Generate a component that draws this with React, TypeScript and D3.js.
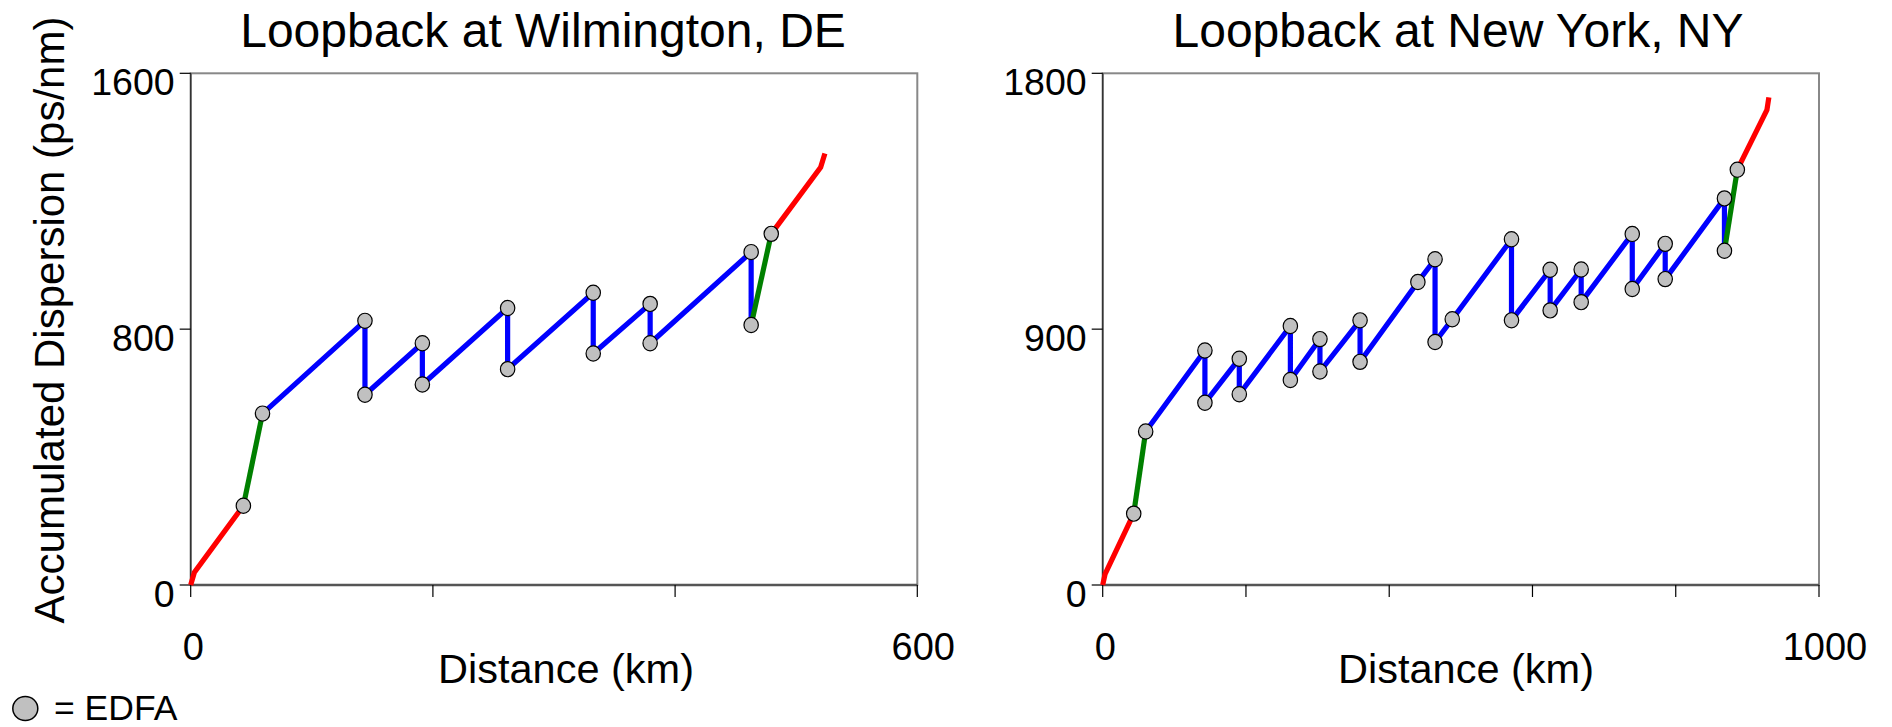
import React from "react";
import * as d3 from "d3";

// Accumulated dispersion along the route: [distance km, dispersion ps/nm]
const wilmRedIn: [number, number][] = [[0, 0], [3, 39], [43.5, 248]];
const wilmGreenIn: [number, number][] = [[43.5, 248], [59.3, 536]];
const wilmBlue: [number, number][] = [
  [59.3, 536], [143.9, 826], [143.9, 595], [191.3, 756], [191.3, 627],
  [261.7, 866], [261.7, 675], [332.4, 914], [332.4, 724], [379.4, 879],
  [379.4, 756], [462.8, 1041], [462.8, 813],
];
const wilmGreenOut: [number, number][] = [[462.8, 813], [479.4, 1098]];
const wilmRedOut: [number, number][] = [[479.4, 1098], [520.2, 1306], [523.7, 1349]];
const wilmEdfa: [number, number][] = [
  [43.5, 248], [59.3, 536], [143.9, 826], [143.9, 595], [191.3, 756], [191.3, 627],
  [261.7, 866], [261.7, 675], [332.4, 914], [332.4, 724], [379.4, 879], [379.4, 756],
  [462.8, 1041], [462.8, 813], [479.4, 1098],
];

const nyRedIn: [number, number][] = [[0, 0], [3.3, 38], [43.3, 251]];
const nyGreenIn: [number, number][] = [[43.3, 251], [60, 540]];
const nyBlue: [number, number][] = [
  [60, 540], [142.7, 825], [142.7, 641], [190.7, 796], [190.7, 671],
  [262, 911], [262, 721], [303.3, 865], [303.3, 751], [359.3, 931],
  [359.3, 785], [440, 1066], [464, 1146], [464, 855], [488, 935],
  [570.7, 1216], [570.7, 931], [624.7, 1109], [624.7, 966], [668, 1110],
  [668, 995], [739.3, 1235], [739.3, 1041], [785.3, 1200], [785.3, 1076],
  [868, 1360], [868, 1176],
];
const nyGreenOut: [number, number][] = [[868, 1176], [886, 1461]];
const nyRedOut: [number, number][] = [[886, 1461], [927.3, 1671], [930, 1715]];
const nyEdfa: [number, number][] = [
  [43.3, 251], [60, 540], [142.7, 825], [142.7, 641], [190.7, 796], [190.7, 671],
  [262, 911], [262, 721], [303.3, 865], [303.3, 751], [359.3, 931], [359.3, 785],
  [440, 1066], [464, 1146], [464, 855], [488, 935], [570.7, 1216], [570.7, 931],
  [624.7, 1109], [624.7, 966], [668, 1110], [668, 995], [739.3, 1235], [739.3, 1041],
  [785.3, 1200], [785.3, 1076], [868, 1360], [868, 1176], [886, 1461],
];

const wilmXTicks = [0, 200, 400, 600];
const wilmXLabels = [0, 600];
const wilmYTicks = [0, 800, 1600];
const nyXTicks = [0, 200, 400, 600, 800, 1000];
const nyXLabels = [0, 1000];
const nyYTicks = [0, 900, 1800];

const FONT = "'Liberation Sans', Arial, Helvetica, sans-serif";
const RED = "#ff0000";
const GREEN = "#008000";
const BLUE = "#0000ff";

type Panel = {
  title: string;
  titleX: number;
  xLabelX: number;
  left: number;
  right: number;
  xMax: number;
  yMax: number;
  xTicks: number[];
  xLabels: number[];
  yTicks: number[];
  segments: { pts: [number, number][]; color: string }[];
  edfa: [number, number][];
};

const TOP = 73.3;
const BOTTOM = 585;

function Plot({ p }: { p: Panel }) {
  const x = d3.scaleLinear().domain([0, p.xMax]).range([p.left, p.right]);
  const y = d3.scaleLinear().domain([0, p.yMax]).range([BOTTOM, TOP]);
  const line = d3
    .line<[number, number]>()
    .x((d) => x(d[0]))
    .y((d) => y(d[1]));
  return (
    <g>
      <text
        x={p.titleX}
        y={47}
        textAnchor="middle"
        fontFamily={FONT}
        fontSize={48}
        fill="#000"
      >
        {p.title}
      </text>
      {/* plot frame */}
      <rect
        x={p.left}
        y={TOP}
        width={p.right - p.left}
        height={BOTTOM - TOP}
        fill="none"
        stroke="#888"
        strokeWidth={2}
      />
      <line x1={p.left} x2={p.left} y1={TOP} y2={BOTTOM} stroke="#333" strokeWidth={1.5} />
      <line x1={p.left} x2={p.right} y1={BOTTOM} y2={BOTTOM} stroke="#555" strokeWidth={2.5} />
      {p.yTicks.map((t) => (
        <g key={"y" + t}>
          <line x1={p.left - 11} x2={p.left} y1={y(t)} y2={y(t)} stroke="#000" strokeWidth={1.2} />
          <text
            x={p.left - 16}
            y={y(t) + 21.7}
            textAnchor="end"
            fontFamily={FONT}
            fontSize={37.5}
            fill="#000"
          >
            {t}
          </text>
        </g>
      ))}
      {p.xTicks.map((t) => (
        <line
          key={"x" + t}
          x1={x(t)}
          x2={x(t)}
          y1={BOTTOM}
          y2={BOTTOM + 12}
          stroke="#000"
          strokeWidth={1.2}
        />
      ))}
      {p.xLabels.map((t, i) => (
        <text
          key={"xl" + t}
          x={x(t) + (i === 0 ? 2.5 : 6)}
          y={660}
          textAnchor="middle"
          fontFamily={FONT}
          fontSize={38}
          fill="#000"
        >
          {t}
        </text>
      ))}
      <text
        x={p.xLabelX}
        y={683}
        textAnchor="middle"
        fontFamily={FONT}
        fontSize={41.5}
        fill="#000"
      >
        Distance (km)
      </text>
      {p.segments.map((s, i) => (
        <path
          key={"s" + i}
          d={line(s.pts) || ""}
          fill="none"
          stroke={s.color}
          strokeWidth={5.2}
          strokeLinejoin="miter"
          strokeMiterlimit={2}
        />
      ))}
      {p.edfa.map((d, i) => (
        <ellipse
          key={"e" + i}
          cx={x(d[0])}
          cy={y(d[1])}
          rx={7.2}
          ry={7.6}
          fill="#c0c0c0"
          stroke="#000"
          strokeWidth={1.2}
        />
      ))}
    </g>
  );
}

const panels: Panel[] = [
  {
    title: "Loopback at Wilmington, DE",
    titleX: 543,
    xLabelX: 566,
    left: 190.7,
    right: 917.3,
    xMax: 600,
    yMax: 1600,
    xTicks: wilmXTicks,
    xLabels: wilmXLabels,
    yTicks: wilmYTicks,
    segments: [
      { pts: wilmRedIn, color: RED },
      { pts: wilmGreenIn, color: GREEN },
      { pts: wilmBlue, color: BLUE },
      { pts: wilmGreenOut, color: GREEN },
      { pts: wilmRedOut, color: RED },
    ],
    edfa: wilmEdfa,
  },
  {
    title: "Loopback at New York, NY",
    titleX: 1458,
    xLabelX: 1466,
    left: 1102.7,
    right: 1819,
    xMax: 1000,
    yMax: 1800,
    xTicks: nyXTicks,
    xLabels: nyXLabels,
    yTicks: nyYTicks,
    segments: [
      { pts: nyRedIn, color: RED },
      { pts: nyGreenIn, color: GREEN },
      { pts: nyBlue, color: BLUE },
      { pts: nyGreenOut, color: GREEN },
      { pts: nyRedOut, color: RED },
    ],
    edfa: nyEdfa,
  },
];

export default function App() {
  return (
    <svg
      width={1892}
      height={727}
      style={{ position: "absolute", left: 0, top: 0, background: "#fff" }}
    >
      <rect x={0} y={0} width={1892} height={727} fill="#fff" />
      <text
        transform="translate(63.5,320) rotate(-90)"
        textAnchor="middle"
        fontFamily={FONT}
        fontSize={42}
        fill="#000"
      >
        Accumulated Dispersion (ps/nm)
      </text>
      {panels.map((p) => (
        <Plot key={p.title} p={p} />
      ))}
      {/* legend */}
      <ellipse cx={25.3} cy={708.5} rx={12.5} ry={12} fill="#c0c0c0" stroke="#000" strokeWidth={1.5} />
      <text x={54} y={720} fontFamily={FONT} fontSize={35.5} fill="#000">
        = EDFA
      </text>
    </svg>
  );
}
